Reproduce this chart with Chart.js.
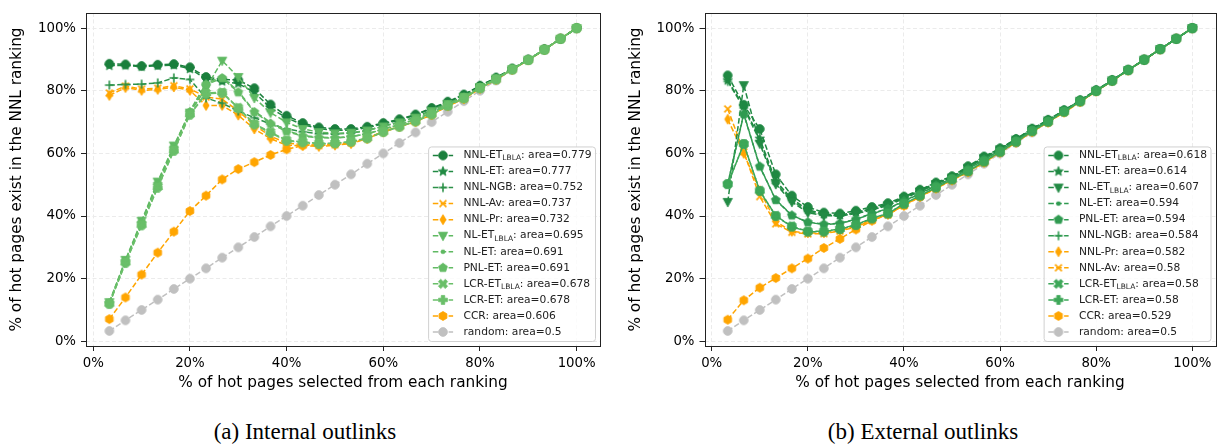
<!DOCTYPE html>
<html>
<head>
<meta charset="utf-8">
<script src="https://cdn.jsdelivr.net/npm/chart.js@4.4.0/dist/chart.umd.min.js"></script>
<style>
  body { margin: 0; background: #fff; width: 1221px; height: 444px; overflow: hidden; position: relative; }
  .panel { position: absolute; top: 0; width: 610px; height: 400px; }
  #panelA { left: 0; }
  #panelB { left: 611px; }
  .caption { position: absolute; top: 420px; width: 610px; text-align: center; line-height: 1;
             font-family: "Liberation Serif", "DejaVu Serif", serif; font-size: 23px; color: #000; }
</style>
</head>
<body>
<div class="panel" id="panelA"><canvas id="chartA" width="610" height="400"></canvas></div>
<div class="panel" id="panelB"><canvas id="chartB" width="610" height="400"></canvas></div>
<div class="caption" style="left:0">(a) Internal outlinks</div>
<div class="caption" style="left:618px">(b) External outlinks</div>
<script>
// x positions (% of hot pages selected) and axis ticks
const xPct = [3.33, 6.67, 10, 13.33, 16.67, 20, 23.33, 26.67, 30, 33.33, 36.67, 40, 43.33, 46.67, 50,
              53.33, 56.67, 60, 63.33, 66.67, 70, 73.33, 76.67, 80, 83.33, 86.67, 90, 93.33, 96.67, 100];
const tickPct = [0, 20, 40, 60, 80, 100];

// (a) internal outlinks
const intNames = ['NNL-ET_LBLA', 'NNL-ET', 'NNL-NGB', 'NNL-Av', 'NNL-Pr', 'NL-ET_LBLA', 'NL-ET', 'PNL-ET', 'LCR-ET_LBLA', 'LCR-ET', 'CCR', 'random'];
const intAreas = ['0.779', '0.777', '0.752', '0.737', '0.732', '0.695', '0.691', '0.691', '0.678', '0.678', '0.606', '0.5'];
const intNnlEtLbla = [88.6, 88.4, 87.9, 88.3, 88.5, 87.5, 84.4, 83.6, 83.4, 80.8, 75.6, 72.0, 69.7, 68.3, 67.8, 67.8, 68.5, 69.7, 70.9, 72.4, 74.5, 76.5, 78.8, 81.6, 84.2, 87.1, 89.9, 93.2, 96.6, 100];
const intNnlEt     = [88.0, 88.1, 87.7, 88.0, 88.2, 87.0, 83.8, 83.0, 82.3, 79.5, 74.5, 71.3, 69.2, 67.9, 67.4, 67.4, 68.2, 69.4, 70.6, 72.2, 74.3, 76.3, 78.6, 81.5, 84.1, 87.0, 89.9, 93.2, 96.6, 100];
const intNnlNgb    = [81.8, 82.0, 82.1, 82.5, 84.1, 83.6, 77.7, 76.0, 73.5, 71.4, 69.4, 67.8, 66.9, 66.3, 66.2, 66.5, 67.3, 68.7, 70.0, 71.6, 73.7, 75.9, 78.2, 81.2, 83.9, 86.9, 89.9, 93.2, 96.6, 100];
const intNnlAv     = [79.3, 81.5, 80.5, 80.8, 81.6, 80.6, 78.0, 77.3, 73.5, 69.0, 65.5, 63.3, 62.8, 62.5, 62.8, 63.4, 64.8, 67.0, 68.6, 70.2, 72.4, 75.2, 77.5, 80.8, 83.6, 86.8, 89.8, 93.1, 96.6, 100];
const intNnlPr     = [78.5, 81.0, 80.1, 80.4, 81.2, 80.1, 75.3, 75.3, 72.2, 67.8, 64.7, 62.6, 62.5, 62.2, 62.6, 63.1, 64.7, 66.8, 68.5, 70.1, 72.3, 75.1, 77.4, 80.7, 83.6, 86.8, 89.8, 93.1, 96.6, 100];
const intNlEtLbla  = [12.5, 26.0, 38.5, 51.0, 62.5, 73.0, 80.8, 89.6, 84.4, 77.7, 73.0, 69.9, 67.8, 66.8, 66.4, 66.6, 67.3, 68.6, 69.9, 71.4, 73.5, 75.8, 78.1, 81.2, 83.9, 86.9, 89.9, 93.2, 96.6, 100];
const intNlEt      = [12.3, 25.8, 38.0, 50.5, 62.0, 73.5, 82.4, 84.4, 79.8, 73.5, 69.9, 67.3, 65.7, 65.2, 65.0, 65.4, 66.3, 67.8, 69.2, 70.9, 73.0, 75.5, 77.9, 81.0, 83.8, 86.9, 89.9, 93.2, 96.6, 100];
const intPnlEt     = [12.2, 25.5, 37.8, 50.2, 61.8, 73.2, 82.0, 84.0, 79.5, 73.2, 69.5, 67.0, 65.5, 65.0, 64.9, 65.3, 66.2, 67.7, 69.1, 70.8, 72.9, 75.4, 77.8, 81.0, 83.8, 86.9, 89.9, 93.2, 96.6, 100];
const intLcrEtLbla = [12.0, 25.2, 37.2, 49.3, 61.0, 72.5, 79.3, 79.5, 74.6, 69.4, 66.8, 64.2, 63.7, 63.2, 63.3, 63.8, 64.9, 66.9, 68.6, 70.3, 72.5, 75.2, 77.6, 80.8, 83.6, 86.8, 89.8, 93.1, 96.6, 100];
const intLcrEt     = [11.9, 25.0, 37.0, 49.0, 60.8, 72.3, 79.0, 79.3, 74.4, 69.2, 66.5, 64.0, 63.5, 63.0, 63.2, 63.7, 64.8, 66.8, 68.5, 70.2, 72.4, 75.2, 77.6, 80.8, 83.6, 86.8, 89.8, 93.1, 96.6, 100];
const intCcr       = [7.1, 14.0, 21.3, 28.3, 35.0, 41.6, 46.5, 51.7, 55.0, 57.2, 59.5, 61.3, 62.5, 62.8, 63.0, 63.5, 64.8, 67.0, 68.6, 70.2, 72.4, 75.2, 77.5, 80.8, 83.6, 86.8, 89.8, 93.1, 96.6, 100];
const intRandom    = [3.3, 6.7, 10, 13.3, 16.7, 20, 23.3, 26.7, 30, 33.3, 36.7, 40, 43.3, 46.7, 50, 53.3, 56.7, 60, 63.3, 66.7, 70, 73.3, 76.7, 80, 83.3, 86.7, 90, 93.3, 96.7, 100];

// (b) external outlinks
const extNames = ['NNL-ET_LBLA', 'NNL-ET', 'NL-ET_LBLA', 'NL-ET', 'PNL-ET', 'NNL-NGB', 'NNL-Pr', 'NNL-Av', 'LCR-ET_LBLA', 'LCR-ET', 'CCR', 'random'];
const extAreas = ['0.618', '0.614', '0.607', '0.594', '0.594', '0.584', '0.582', '0.58', '0.58', '0.58', '0.529', '0.5'];
const extNnlEtLbla = [84.9, 75.5, 67.8, 53.3, 46.5, 42.9, 41.1, 40.8, 41.7, 42.9, 44.1, 46.2, 48.4, 50.7, 52.7, 55.9, 59.0, 61.6, 64.6, 67.9, 70.7, 73.8, 77.0, 80.2, 83.4, 86.7, 89.9, 93.3, 96.6, 100];
const extNnlEt     = [83.3, 75.0, 64.7, 51.2, 45.5, 42.0, 40.6, 40.3, 41.2, 42.4, 43.8, 46.0, 48.2, 50.5, 52.5, 55.7, 58.8, 61.5, 64.5, 67.8, 70.6, 73.7, 76.9, 80.1, 83.4, 86.7, 89.9, 93.3, 96.6, 100];
const extNlEtLbla  = [44.5, 81.8, 63.1, 50.2, 44.5, 41.1, 40.1, 40.0, 40.8, 41.9, 43.4, 45.6, 47.8, 50.2, 52.3, 55.4, 58.5, 61.3, 64.4, 67.7, 70.5, 73.6, 76.8, 80.0, 83.3, 86.6, 89.9, 93.3, 96.6, 100];
const extNlEt      = [50.2, 72.7, 55.9, 45.2, 40.3, 38.0, 37.4, 37.7, 39.0, 40.8, 42.4, 44.8, 47.2, 49.8, 52.0, 55.0, 58.1, 61.0, 64.1, 67.4, 70.3, 73.5, 76.7, 80.0, 83.3, 86.6, 89.9, 93.3, 96.6, 100];
const extPnlEt     = [50.2, 72.5, 55.8, 45.1, 40.2, 38.0, 37.3, 37.6, 38.9, 40.7, 42.3, 44.7, 47.1, 49.7, 51.9, 54.9, 58.0, 61.0, 64.1, 67.4, 70.3, 73.5, 76.7, 80.0, 83.3, 86.6, 89.9, 93.3, 96.6, 100];
const extNnlNgb    = [83.0, 74.5, 64.0, 50.5, 45.0, 41.5, 40.3, 40.1, 41.0, 42.2, 43.6, 45.8, 48.0, 50.3, 52.4, 55.5, 58.6, 61.3, 64.4, 67.7, 70.5, 73.6, 76.8, 80.0, 83.3, 86.6, 89.9, 93.3, 96.6, 100];
const extNnlPr     = [70.9, 60.0, 48.1, 38.2, 35.1, 34.6, 34.6, 35.4, 36.7, 38.8, 40.5, 43.5, 46.3, 49.0, 51.6, 54.2, 57.3, 60.4, 63.6, 67.0, 70.0, 73.2, 76.5, 79.9, 83.2, 86.6, 89.9, 93.3, 96.6, 100];
const extNnlAv     = [74.2, 60.5, 46.2, 37.5, 34.8, 34.3, 34.4, 35.2, 36.5, 38.7, 40.4, 43.4, 46.2, 48.9, 51.5, 54.1, 57.2, 60.4, 63.6, 67.0, 70.0, 73.2, 76.5, 79.9, 83.2, 86.6, 89.9, 93.3, 96.6, 100];
const extLcrEtLbla = [50.2, 63.0, 48.1, 40.1, 36.7, 35.1, 35.1, 35.9, 37.2, 39.3, 40.8, 43.9, 46.5, 49.1, 51.7, 54.3, 57.4, 60.5, 63.7, 67.1, 70.1, 73.3, 76.6, 79.9, 83.2, 86.6, 89.9, 93.3, 96.6, 100];
const extLcrEt     = [50.2, 63.0, 48.0, 40.0, 36.6, 35.0, 35.0, 35.8, 37.1, 39.2, 40.8, 43.9, 46.5, 49.1, 51.7, 54.3, 57.4, 60.5, 63.7, 67.1, 70.1, 73.3, 76.6, 79.9, 83.2, 86.6, 89.9, 93.3, 96.6, 100];
const extCcr       = [6.9, 13.1, 17.1, 20.2, 23.3, 26.4, 29.8, 32.7, 35.7, 38.5, 40.6, 43.3, 46.1, 48.8, 51.4, 54.0, 57.1, 60.3, 63.5, 66.9, 69.9, 73.1, 76.4, 79.8, 83.1, 86.5, 89.8, 93.2, 96.6, 100];
const extRandom    = [3.3, 6.7, 10, 13.3, 16.7, 20, 23.3, 26.7, 30, 33.3, 36.7, 40, 43.3, 46.7, 50, 53.3, 56.7, 60, 63.3, 66.7, 70, 73.3, 76.7, 80, 83.3, 86.7, 90, 93.3, 96.7, 100];

// styles
const markers = {
    'NNL-ET_LBLA': 'o', 'NNL-ET': '*', 'NNL-NGB': '+', 'NNL-Av': 'x', 'NNL-Pr': 'd', 'NL-ET_LBLA': 'v',
    'NL-ET': '.', 'PNL-ET': 'p', 'LCR-ET_LBLA': 'X', 'LCR-ET': 'P', 'CCR': 'h', 'random': 'o'
};
const ORANGE = '#ffa500', GREY = '#c0c0c0';
const intColors = {
    'NNL-ET_LBLA': '#1a7f3c', 'NNL-ET': '#218a43', 'NNL-NGB': '#2c9148', 'NNL-Av': ORANGE, 'NNL-Pr': ORANGE,
    'NL-ET_LBLA': '#5fb962', 'NL-ET': '#5fb962', 'PNL-ET': '#63bb64', 'LCR-ET_LBLA': '#6abf69', 'LCR-ET': '#6abf69',
    'CCR': ORANGE, 'random': GREY
};
const extColors = {
    'NNL-ET_LBLA': '#1f8842', 'NNL-ET': '#1f8842', 'NL-ET_LBLA': '#228a44', 'NL-ET': '#2f9a50', 'PNL-ET': '#2f9a50',
    'NNL-NGB': '#2f9a50', 'NNL-Pr': ORANGE, 'NNL-Av': ORANGE, 'LCR-ET_LBLA': '#3da758', 'LCR-ET': '#3da758',
    'CCR': ORANGE, 'random': GREY
};
// bottom to top
const drawOrder = ['random', 'CCR', 'NNL-Av', 'NNL-Pr', 'NNL-NGB', 'NNL-ET', 'NNL-ET_LBLA', 'NL-ET_LBLA', 'NL-ET', 'PNL-ET', 'LCR-ET_LBLA', 'LCR-ET'];
const DASH = [5.5, 2.4];

const markerCache = {};
const markerCanvas = (shape, color) => {
    const key = shape + color;
    if (markerCache[key]) return markerCache[key];
    const c = document.createElement('canvas');
    c.width = 16; c.height = 16;
    const ctx = c.getContext('2d');
    ctx.translate(8, 8);
    ctx.fillStyle = color;
    ctx.strokeStyle = color;
    ctx.lineWidth = 0.8;
    const r = 4.4;
    const poly = pts => {
        ctx.beginPath();
        pts.forEach(([x, y], i) => i ? ctx.lineTo(x, y) : ctx.moveTo(x, y));
        ctx.closePath();
        ctx.fill();
        ctx.stroke();
    };
    const regular = (n, rad) => Array.from({ length: n }, (_, i) => {
        const a = i * 2 * Math.PI / n;
        return [rad * Math.sin(a), -rad * Math.cos(a)];
    });
    const thickPlus = (a, b) => [[-b, -a], [b, -a], [b, -b], [a, -b], [a, b], [b, b], [b, a], [-b, a], [-b, b], [-a, b], [-a, -b], [-b, -b]];
    switch (shape) {
        case 'o': ctx.beginPath(); ctx.arc(0, 0, r, 0, 2 * Math.PI); ctx.fill(); ctx.stroke(); break;
        case '.': ctx.beginPath(); ctx.arc(0, 0, 2.3, 0, 2 * Math.PI); ctx.fill(); break;
        case 'p': poly(regular(5, r * 1.05)); break;
        case 'h': poly(regular(6, r * 1.02)); break;
        case '*': {
            const pts = [];
            for (let i = 0; i < 10; i++) {
                const a = i * Math.PI / 5, rr = i % 2 ? r * 0.5 : r * 1.15;
                pts.push([rr * Math.sin(a), -rr * Math.cos(a)]);
            }
            poly(pts);
            break;
        }
        case 'v': poly([[-r * 1.05, -r * 0.8], [r * 1.05, -r * 0.8], [0, r * 1.15]]); break;
        case 'd': poly([[0, -r * 1.15], [r * 0.7, 0], [0, r * 1.15], [-r * 0.7, 0]]); break;
        case '+':
            ctx.lineWidth = 1.6;
            ctx.beginPath(); ctx.moveTo(-r, 0); ctx.lineTo(r, 0); ctx.moveTo(0, -r); ctx.lineTo(0, r); ctx.stroke();
            break;
        case 'x': {
            const k = r * 0.78;
            ctx.lineWidth = 1.6;
            ctx.beginPath(); ctx.moveTo(-k, -k); ctx.lineTo(k, k); ctx.moveTo(k, -k); ctx.lineTo(-k, k); ctx.stroke();
            break;
        }
        case 'P': poly(thickPlus(r, r * 0.4)); break;
        case 'X': ctx.rotate(Math.PI / 4); poly(thickPlus(r * 1.1, r * 0.38)); break;
    }
    markerCache[key] = c;
    return c;
};

const buildDatasets = (names, series, colors, offsetNames) => names.map((name, i) => ({
    label: name,
    data: xPct.map((x, j) => ({ x, y: series[i][j] })),
    borderColor: colors[name],
    backgroundColor: colors[name],
    borderWidth: 1.5,
    borderDash: DASH,
    borderDashOffset: offsetNames.includes(name) ? 4 : 0,
    pointStyle: markerCanvas(markers[name], colors[name]),
    pointRadius: 4,
    tension: 0,
    fill: false,
    order: drawOrder.length - 1 - drawOrder.indexOf(name)
}));

const framePlugin = {
    id: 'frame',
    afterDraw(chart) {
        const { ctx, chartArea: a } = chart;
        ctx.save();
        ctx.strokeStyle = '#222';
        ctx.lineWidth = 1;
        ctx.strokeRect(Math.round(a.left) + 0.5, Math.round(a.top) + 0.5, Math.round(a.right - a.left), Math.round(a.bottom - a.top));
        ctx.restore();
    }
};

const FONT = '"DejaVu Sans", sans-serif';
const LFS = 10.7, SFS = 7.5;
const splitLabel = label => {
    const m = label.match(/^(.*?)_LBLA(.*)$/);
    return m ? [m[1], 'LBLA', m[2]] : [label, '', ''];
};
const measureLabel = (ctx, label) => {
    const [a, sub, b] = splitLabel(label);
    ctx.font = `${LFS}px ${FONT}`;
    let w = ctx.measureText(a).width + ctx.measureText(b).width;
    ctx.font = `${SFS}px ${FONT}`;
    if (sub) w += ctx.measureText(sub).width;
    return w;
};

const legendPlugin = {
    id: 'boxLegend',
    afterDraw(chart, args, opts) {
        const { ctx, chartArea } = chart;
        const entries = opts.entries;
        const rowH = 16.05;
        ctx.save();
        const textW = Math.max(...entries.map(e => measureLabel(ctx, e.text)));
        const w = 4.7 + 20.3 + 10.3 + textW + 3.5;
        const h = (entries.length - 1) * rowH + 18;
        const right = chartArea.right - opts.inset;
        const bottom = chartArea.bottom - opts.inset;
        const left = right - w, top = bottom - h;
        ctx.beginPath();
        ctx.roundRect(left + 0.5, top + 0.5, w, h, 3);
        ctx.fillStyle = 'rgba(255,255,255,0.8)';
        ctx.fill();
        ctx.strokeStyle = '#d0d0d0';
        ctx.lineWidth = 1;
        ctx.stroke();
        entries.forEach((e, i) => {
            const cy = top + 9 + i * rowH;
            const hx = left + 4.7;
            ctx.save();
            ctx.strokeStyle = e.color;
            ctx.lineWidth = 1.5;
            ctx.setLineDash(DASH);
            ctx.beginPath();
            ctx.moveTo(hx, cy);
            ctx.lineTo(hx + 20.3, cy);
            ctx.stroke();
            ctx.restore();
            const mc = e.marker;
            ctx.drawImage(mc, hx + 10.15 - mc.width / 2, cy - mc.height / 2);
            const [a, sub, b] = splitLabel(e.text);
            let tx = hx + 20.3 + 10.3;
            ctx.fillStyle = '#222';
            ctx.textBaseline = 'middle';
            ctx.textAlign = 'left';
            ctx.font = `${LFS}px ${FONT}`;
            ctx.fillText(a, tx, cy);
            tx += ctx.measureText(a).width;
            if (sub) {
                ctx.font = `${SFS}px ${FONT}`;
                ctx.fillText(sub, tx, cy + 3);
                tx += ctx.measureText(sub).width;
            }
            ctx.font = `${LFS}px ${FONT}`;
            ctx.fillText(b, tx, cy);
        });
        ctx.restore();
    }
};

const tickFont = { family: 'DejaVu Sans', size: 13.3 };
const titleFont = { family: 'DejaVu Sans', size: 15.3 };

const axis = (title, titlePad, fit) => ({
    type: 'linear',
    min: -1.5,
    max: 104.83,
    afterBuildTicks: s => { s.ticks = tickPct.map(v => ({ value: v })); },
    afterFit: fit,
    ticks: { callback: v => v + '%', font: tickFont, color: '#000', padding: 5, maxRotation: 0, autoSkip: false },
    grid: { color: '#ebebeb', lineWidth: 1, tickColor: '#222', tickLength: 5, tickWidth: 1 },
    border: { display: false, dash: [4, 2.5] },
    title: { display: true, text: title, font: titleFont, color: '#000', padding: titlePad }
});

const renderPanel = (canvasId, names, areas, series, colors, yWidth, padRight, yTitlePad, offsetNames) => {
    const datasets = buildDatasets(names, series, colors, offsetNames);
    const entries = names.map((n, i) => ({
        text: `${n}: area=${areas[i]}`,
        color: colors[n],
        marker: markerCanvas(markers[n], colors[n])
    }));
    return new Chart(document.getElementById(canvasId), {
        type: 'line',
        data: { datasets },
        options: {
            responsive: false,
            animation: false,
            events: [],
            layout: { padding: { top: 4, right: padRight, left: 0, bottom: 0 } },
            plugins: {
                legend: { display: false },
                tooltip: { enabled: false },
                boxLegend: { entries, inset: 5 }
            },
            scales: {
                x: axis('% of hot pages selected from each ranking', { top: 0, bottom: 7.8 }, s => { s.height = 54; }),
                y: axis('% of hot pages exist in the NNL ranking', { top: yTitlePad, bottom: 0 }, s => { s.width = yWidth; })
            }
        },
        plugins: [framePlugin, legendPlugin]
    });
};

renderPanel('chartA', intNames, intAreas,
    [intNnlEtLbla, intNnlEt, intNnlNgb, intNnlAv, intNnlPr, intNlEtLbla, intNlEt, intPnlEt, intLcrEtLbla, intLcrEt, intCcr, intRandom],
    intColors, 86, 10, 7.8, []);
renderPanel('chartB', extNames, extAreas,
    [extNnlEtLbla, extNnlEt, extNlEtLbla, extNlEt, extPnlEt, extNnlNgb, extNnlPr, extNnlAv, extLcrEtLbla, extLcrEt, extCcr, extRandom],
    extColors, 93.5, 3, 15.8, ['PNL-ET', 'LCR-ET']);
</script>
</body>
</html>
